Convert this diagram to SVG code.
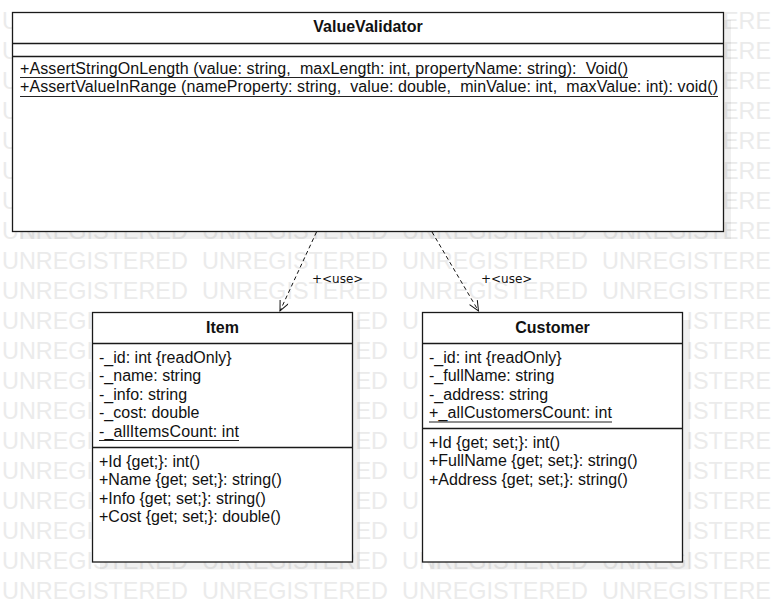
<svg xmlns="http://www.w3.org/2000/svg" width="773" height="612" viewBox="0 0 773 612">
<style>
  .wm { font-family: "Liberation Sans", Arial, sans-serif; font-size: 23.4px; fill: #ebebeb; }
  .shadow { fill: #000; fill-opacity: 0.06; }
  .box { fill: #fff; stroke: #1a1a1a; stroke-width: 1.3; }
  .div { stroke: #1a1a1a; stroke-width: 1.3; }
  .ul { stroke: #222; stroke-width: 1.1; }
  .title { font-family: "Liberation Sans", Arial, sans-serif; font-size: 16px; font-weight: bold; fill: #111; text-anchor: middle; }
  .txt { font-family: "Liberation Sans", Arial, sans-serif; font-size: 16px; fill: #111; white-space: pre; }
  .dep { fill: none; stroke: #111; stroke-width: 1; stroke-dasharray: 4 3; }
  .lbl { font-family: "DejaVu Sans", sans-serif; font-size: 12px; fill: #111; }
  .head { fill: none; stroke: #111; stroke-width: 1; }
</style>
<defs>
  <marker id="open" viewBox="0 0 12 10" refX="11" refY="5" markerWidth="12" markerHeight="10" markerUnits="userSpaceOnUse" orient="auto">
    <path class="head" d="M1,0.5 L11,5 L1,9.5"/>
  </marker>
</defs>
<rect width="773" height="612" fill="#fff"/>
<g id="watermark" class="wm">
  <text x="2" y="29">U</text><text x="722.9" y="29">ERE</text>
  <text x="2" y="59">U</text><text x="722.9" y="59">ERE</text>
  <text x="2" y="89">U</text><text x="722.9" y="89">ERE</text>
  <text x="2" y="119">U</text><text x="722.9" y="119">ERE</text>
  <text x="2" y="149">U</text><text x="722.9" y="149">ERE</text>
  <text x="2" y="179">U</text><text x="722.9" y="179">ERE</text>
  <text x="2" y="209">U</text><text x="722.9" y="209">ERE</text>
  <text y="239"><tspan x="2">UNREGISTERED</tspan><tspan x="202">UNREGISTERED</tspan><tspan x="402">UNREGISTERED</tspan><tspan x="602">UNREGISTERE</tspan></text>
  <text y="269"><tspan x="2">UNREGISTERED</tspan><tspan x="202">UNREGISTERED</tspan><tspan x="402">UNREGISTERED</tspan><tspan x="602">UNREGISTERE</tspan></text>
  <text y="299"><tspan x="2">UNREGISTERED</tspan><tspan x="202">UNREGISTERED</tspan><tspan x="402">UNREGISTERED</tspan><tspan x="602">UNREGISTERE</tspan></text>
  <text x="2" y="329">UNREGI</text><text x="355.4" y="329">ED</text><text x="402" y="329">U</text><text x="686.5" y="329">ISTERE</text>
  <text x="2" y="359">UNREGI</text><text x="355.4" y="359">ED</text><text x="402" y="359">U</text><text x="686.5" y="359">ISTERE</text>
  <text x="2" y="389">UNREGI</text><text x="355.4" y="389">ED</text><text x="402" y="389">U</text><text x="686.5" y="389">ISTERE</text>
  <text x="2" y="419">UNREGI</text><text x="355.4" y="419">ED</text><text x="402" y="419">U</text><text x="686.5" y="419">ISTERE</text>
  <text x="2" y="449">UNREGI</text><text x="355.4" y="449">ED</text><text x="402" y="449">U</text><text x="686.5" y="449">ISTERE</text>
  <text x="2" y="479">UNREGI</text><text x="355.4" y="479">ED</text><text x="402" y="479">U</text><text x="686.5" y="479">ISTERE</text>
  <text x="2" y="509">UNREGI</text><text x="355.4" y="509">ED</text><text x="402" y="509">U</text><text x="686.5" y="509">ISTERE</text>
  <text x="2" y="539">UNREGI</text><text x="355.4" y="539">ED</text><text x="402" y="539">U</text><text x="686.5" y="539">ISTERE</text>
  <text y="569"><tspan x="2">UNREGISTERED</tspan><tspan x="202">UNREGISTERED</tspan><tspan x="402">UNREGISTERED</tspan><tspan x="602">UNREGISTERE</tspan></text>
  <text y="599"><tspan x="2">UNREGISTERED</tspan><tspan x="202">UNREGISTERED</tspan><tspan x="402">UNREGISTERED</tspan><tspan x="602">UNREGISTERE</tspan></text>
</g>

<g id="connectors">
  <line class="dep" x1="316.5" y1="232" x2="280" y2="311" marker-end="url(#open)"/>
  <text class="lbl" x="312" y="282.5">+&lt;use&gt;</text>
  <line class="dep" x1="432" y1="232" x2="478.5" y2="311" marker-end="url(#open)"/>
  <text class="lbl" x="481" y="282.5">+&lt;use&gt;</text>
</g>

<g id="node-valuevalidator">
  <rect class="shadow" x="20" y="20" width="711" height="219"/>
  <rect class="box" x="12.5" y="12.5" width="711" height="219"/>
  <line class="div" x1="12.5" y1="43.5" x2="723.5" y2="43.5"/>
  <line class="div" x1="12.5" y1="56.5" x2="723.5" y2="56.5"/>
  <text class="title" x="368" y="31.5">ValueValidator</text>
  <text class="txt" x="20" y="73.5" textLength="608" lengthAdjust="spacing">+AssertStringOnLength (value: string,  maxLength: int, propertyName: string):  Void()</text>
  <line class="ul" x1="20" y1="77.5" x2="628" y2="77.5"/>
  <text class="txt" x="20" y="92" textLength="698" lengthAdjust="spacing">+AssertValueInRange (nameProperty: string,  value: double,  minValue: int,  maxValue: int): void()</text>
  <line class="ul" x1="20" y1="96.5" x2="718" y2="96.5"/>
</g>

<g id="node-item">
  <rect class="shadow" x="100" y="320" width="260" height="249.5"/>
  <rect class="box" x="92.5" y="312.5" width="260" height="249.5"/>
  <line class="div" x1="92.5" y1="343.5" x2="352.5" y2="343.5"/>
  <line class="div" x1="92.5" y1="447.5" x2="352.5" y2="447.5"/>
  <text class="title" x="222.5" y="332.5">Item</text>
  <text class="txt" x="99" y="362.5">-_id: int {readOnly}</text>
  <text class="txt" x="99" y="381">-_name: string</text>
  <text class="txt" x="99" y="399.5">-_info: string</text>
  <text class="txt" x="99" y="418">-_cost: double</text>
  <text class="txt" x="99" y="436.5" textLength="140" lengthAdjust="spacing">-_allItemsCount: int</text>
  <line class="ul" x1="99" y1="440.5" x2="239" y2="440.5"/>
  <text class="txt" x="99" y="466.5">+Id {get;}: int()</text>
  <text class="txt" x="99" y="485">+Name {get; set;}: string()</text>
  <text class="txt" x="99" y="503.5">+Info {get; set;}: string()</text>
  <text class="txt" x="99" y="522">+Cost {get; set;}: double()</text>
</g>

<g id="node-customer">
  <rect class="shadow" x="430" y="320" width="260" height="249.5"/>
  <rect class="box" x="422.5" y="312.5" width="260" height="249.5"/>
  <line class="div" x1="422.5" y1="343.5" x2="682.5" y2="343.5"/>
  <line class="div" x1="422.5" y1="428.5" x2="682.5" y2="428.5"/>
  <text class="title" x="552.5" y="332.5">Customer</text>
  <text class="txt" x="429" y="362.5">-_id: int {readOnly}</text>
  <text class="txt" x="429" y="381">-_fullName: string</text>
  <text class="txt" x="429" y="399.5">-_address: string</text>
  <text class="txt" x="429" y="418" textLength="183" lengthAdjust="spacing">+_allCustomersCount: int</text>
  <line class="ul" x1="429" y1="422" x2="612" y2="422"/>
  <text class="txt" x="429" y="447.5">+Id {get; set;}: int()</text>
  <text class="txt" x="429" y="466">+FullName {get; set;}: string()</text>
  <text class="txt" x="429" y="484.5">+Address {get; set;}: string()</text>
</g>
</svg>
